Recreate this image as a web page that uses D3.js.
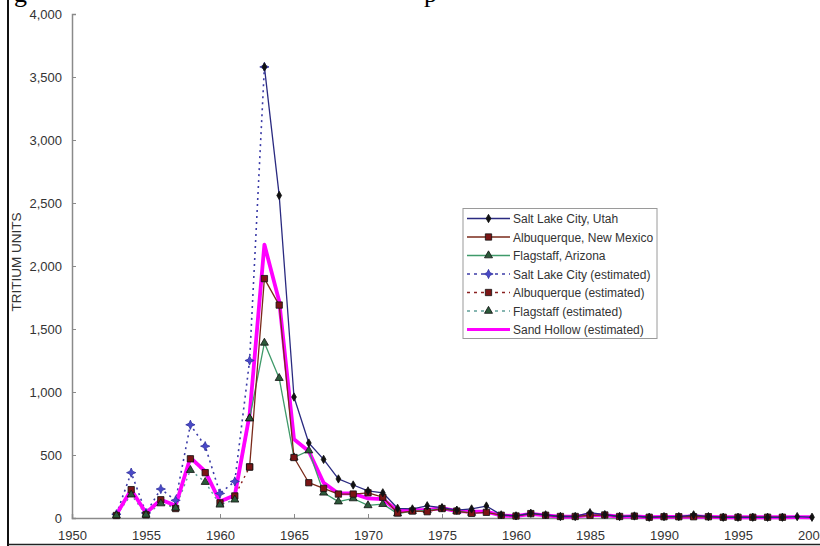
<!DOCTYPE html>
<html>
<head>
  <meta charset="utf-8">
  <title>Tritium in precipitation</title>
  <style>
    body { margin: 0; background: #fff; }
    text { font-family: "Liberation Sans", Arial, sans-serif; }
  </style>
</head>
<body>
  <script src="https://d3js.org/d3.v7.min.js"></script>
  <script>
    // years shared by every series
    const years = d3.range(1953, 2001);

    // measured series (null = no value that year)
    const saltLake = [null, null, null, null, null, null, null, null, null, null, 3580, 2560, 960, 595, 465, 310, 262, 215, 200, 77,
      72, 97, 82, 62, 72, 95, 25, 17, 38, 25, 12, 12, 42, 27, 12, 16, 6, 11, 11, 25, 11, 6, 6, 6, 6, 6, 11, 6];
    const albuquerque = [null, null, null, null, null, null, null, null, null, 405, 1900, 1690, 480, 280, 235, 190, 190, 200, 165, 40,
      55, 50, 75, 55, 37, 45, 22, 16, 35, 22, 12, 12, 22, 24, 12, 15, 6, 10, 10, 10, 10, 6, 6, 6, 6, 6, null, null];
    const flagstaff = [null, null, null, null, null, null, null, null, null, 790, 1390, 1110, 480, 535, 200, 130, 155, 100, 110, 35,
      55, 60, 75, 55, 40, null, null, null, null, null, null, null, null, null, null, null, null, null, null, null, null, null, null, null, null, null, null, null];

    // estimated series
    const saltLakeEst = [30, 360, 40, 230, 140, 740, 570, 195, 290, 1250, 3580];
    const albuquerqueEst = [20, 225, 25, 145, 75, 470, 360, 120, 175, 405];
    const flagstaffEst = [20, 185, 25, 115, 80, 380, 285, 105, 145, 790];
    const sandHollow = [28, 225, 40, 145, 100, 480, 370, 130, 180, 820, 2170, 1720, 625, 530, 280, 195, 195, 155, 150, 55,
      62, 65, 78, 55, 50, 50, 20, 15, 33, 20, 10, 10, 25, 22, 10, 13, 6, 9, 9, 12, 9, 6, 6, 6, 6, 6, 7, 6];

    const xTicks = [1950, 1955, 1960, 1965, 1970, 1975, 1980, 1985, 1990, 1995, 2000];
    const xTickLabels = ["1950", "1955", "1960", "1965", "1970", "1975", "1960", "1985", "1990", "1995", "2000"];
    const yTicks = [0, 500, 1000, 1500, 2000, 2500, 3000, 3500, 4000];

    const width = 820, height = 546;
    const svg = d3.select("body").append("svg")
      .attr("width", width)
      .attr("height", height);

    const x = d3.scaleLinear().domain([1950, 2000]).range([72, 812]);
    const y = d3.scaleLinear().domain([0, 4000]).range([518, 14]);

    // scan frame remnants and cut-off caption above the figure
    svg.append("line").attr("x1", 8).attr("x2", 8).attr("y1", 0).attr("y2", 546)
      .attr("stroke", "#111").attr("stroke-width", 2);
    svg.append("line").attr("x1", 8).attr("x2", 820).attr("y1", 544.5).attr("y2", 544.5)
      .attr("stroke", "#222").attr("stroke-width", 1.5);
    svg.append("text").attr("x", 14).attr("y", 2).text("g")
      .style("font-family", "Liberation Serif").style("font-size", "26px");
    svg.append("text").attr("x", 424).attr("y", 2).text("p")
      .style("font-family", "Liberation Serif").style("font-size", "26px");

    // axes
    const yAxis = d3.axisLeft(y).tickValues(yTicks).tickSize(-4).tickPadding(10)
      .tickFormat(d3.format(","));
    const gy = svg.append("g").attr("transform", "translate(72,0)").call(yAxis);
    const xAxis = d3.axisBottom(x).tickValues(xTicks).tickSize(-4).tickPadding(13)
      .tickFormat((d, i) => xTickLabels[i]);
    const gx = svg.append("g").attr("transform", "translate(0,518)").call(xAxis);
    [gx, gy].forEach(g => {
      g.select(".domain").attr("stroke", "#8a8a8a").attr("stroke-width", 1.5);
      g.selectAll(".tick line").attr("stroke", "#8a8a8a");
      g.selectAll(".tick text").attr("fill", "#333").style("font-size", "13px")
        .style("font-family", "Liberation Sans, Arial, sans-serif");
    });

    svg.append("text")
      .attr("transform", "translate(21,262) rotate(-90)")
      .attr("text-anchor", "middle")
      .attr("fill", "#333")
      .style("font-size", "13.5px")
      .text("TRITIUM UNITS");

    // 4-point star for the estimated Salt Lake City markers
    const star4 = {
      draw(ctx, size) {
        const r = Math.sqrt(size) * 0.75, q = r * 0.3;
        ctx.moveTo(0, -r); ctx.lineTo(q, -q); ctx.lineTo(r, 0); ctx.lineTo(q, q);
        ctx.lineTo(0, r); ctx.lineTo(-q, q); ctx.lineTo(-r, 0); ctx.lineTo(-q, -q);
        ctx.closePath();
      }
    };

    const series = [
      { name: "Salt Lake City (estimated)", values: saltLakeEst, stroke: "#3c3ca8", width: 1.6, dash: "2,4",
        symbol: star4, size: 38, fill: "#4a4ac8", outline: "#3030a0" },
      { name: "Albuquerque (estimated)", values: albuquerqueEst, stroke: "#8a2020", width: 1.4, dash: "2,4",
        symbol: d3.symbolSquare, size: 40, fill: "#7a1515", outline: "#111" },
      { name: "Flagstaff (estimated)", values: flagstaffEst, stroke: "#5f9f98", width: 1.4, dash: "2,4",
        symbol: d3.symbolTriangle, size: 28, fill: "#2c5a3a", outline: "#111" },
      { name: "Sand Hollow (estimated)", values: sandHollow, stroke: "#ff00ff", width: 3.8, dash: null,
        symbol: null },
      { name: "Flagstaff, Arizona", values: flagstaff, stroke: "#3f9a6a", width: 1.3, dash: null,
        symbol: d3.symbolTriangle, size: 28, fill: "#2c5a3a", outline: "#111" },
      { name: "Albuquerque, New Mexico", values: albuquerque, stroke: "#7a2a1a", width: 1.3, dash: null,
        symbol: d3.symbolSquare, size: 40, fill: "#7a1515", outline: "#111" },
      { name: "Salt Lake City, Utah", values: saltLake, stroke: "#2a2a80", width: 1.3, dash: null,
        symbol: d3.symbolDiamond, size: 20, fill: "#111", outline: "#111" }
    ];

    const line = d3.line()
      .defined(d => d.v != null)
      .x(d => x(d.year))
      .y(d => y(d.v));

    series.forEach(s => {
      s.points = s.values.map((v, i) => ({ year: years[i], v: v }));
    });

    // lines first, markers on top
    series.forEach(s => {
      svg.append("path")
        .datum(s.points)
        .attr("fill", "none")
        .attr("stroke", s.stroke)
        .attr("stroke-width", s.width)
        .attr("stroke-dasharray", s.dash)
        .attr("stroke-linejoin", "round")
        .attr("d", line);
    });
    series.filter(s => s.symbol).forEach(s => {
      svg.append("g").selectAll("path")
        .data(s.points.filter(d => d.v != null))
        .enter().append("path")
        .attr("transform", d => "translate(" + x(d.year) + "," + y(d.v) + ")")
        .attr("d", d3.symbol().type(s.symbol).size(s.size))
        .attr("fill", s.fill)
        .attr("stroke", s.outline)
        .attr("stroke-width", 0.8);
    });

    // legend
    const legendOrder = ["Salt Lake City, Utah", "Albuquerque, New Mexico", "Flagstaff, Arizona",
      "Salt Lake City (estimated)", "Albuquerque (estimated)", "Flagstaff (estimated)", "Sand Hollow (estimated)"];
    const legend = svg.append("g");
    legend.append("rect")
      .attr("x", 463).attr("y", 208.5).attr("width", 194).attr("height", 130)
      .attr("fill", "#fff").attr("stroke", "#9a9a9a").attr("stroke-width", 1);
    legendOrder.forEach((name, i) => {
      const s = series.find(d => d.name === name);
      const ly = 218.5 + i * 18.5;
      legend.append("line")
        .attr("x1", 467).attr("x2", 510).attr("y1", ly).attr("y2", ly)
        .attr("stroke", s.stroke)
        .attr("stroke-width", s.dash ? 1.4 : Math.min(s.width, 3))
        .attr("stroke-dasharray", s.dash ? "3,4" : null);
      if (s.symbol) {
        legend.append("path")
          .attr("transform", "translate(488.5," + ly + ")")
          .attr("d", d3.symbol().type(s.symbol).size(s.size))
          .attr("fill", s.fill).attr("stroke", s.outline).attr("stroke-width", 0.8);
      }
      legend.append("text")
        .attr("x", 513).attr("y", ly + 4.5)
        .attr("fill", "#333")
        .style("font-size", "12px")
        .text(name);
    });
  </script>
</body>
</html>
